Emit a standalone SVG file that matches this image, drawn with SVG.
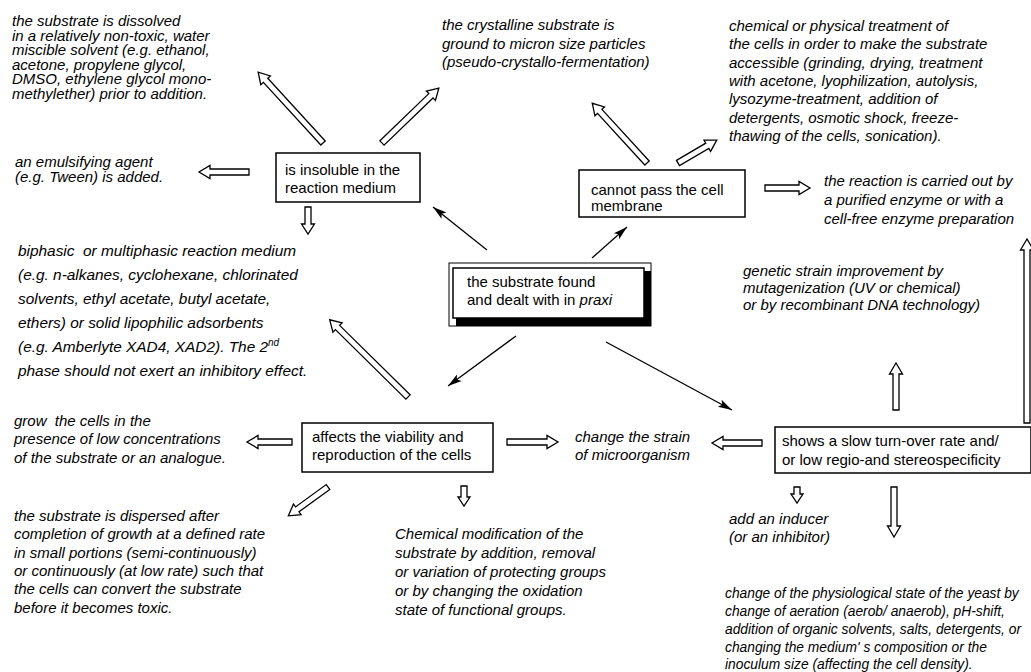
<svg xmlns="http://www.w3.org/2000/svg" width="1031" height="672" viewBox="0 0 1031 672">
<style>
.t{font-family:"Liberation Sans",Arial,sans-serif;font-size:15px;fill:#000}
.i{font-family:"Liberation Sans",Arial,sans-serif;font-size:15px;font-style:italic;fill:#000}
.s{font-size:13.8px}
.b{font-size:15.4px}
.pre{white-space:pre}
.box{fill:#fff;stroke:#000;stroke-width:1.5}
.blk{fill:#fff;stroke:#000;stroke-width:1.3;stroke-linejoin:miter}
.thin{fill:none;stroke:#000;stroke-width:1.3;marker-end:url(#ah)}
</style>
<defs>
<marker id="ah" markerUnits="userSpaceOnUse" markerWidth="16" markerHeight="10" refX="14" refY="5" orient="auto">
<path d="M0,1 L14,5 L0,9 L3,5 Z" fill="#000"/>
</marker>
</defs>
<rect width="1031" height="672" fill="#fff"/>

<g id="connectors">
<line class="thin" x1="487" y1="250" x2="433" y2="207"/>
<line class="thin" x1="592" y1="258" x2="627" y2="227"/>
<line class="thin" x1="516" y1="336" x2="448" y2="386"/>
<line class="thin" x1="606" y1="342" x2="732" y2="410"/>
<path class="blk" transform="translate(323,143) rotate(-132.5)" d="M0,-3H85V-6.5L96,0L85,6.5V3H0Z"/>
<path class="blk" transform="translate(382,143) rotate(-44)" d="M0,-3H68V-6.5L79,0L68,6.5V3H0Z"/>
<path class="blk" transform="translate(249,172) rotate(180)" d="M0,-3H39V-6.5L50,0L39,6.5V3H0Z"/>
<path class="blk" transform="translate(308,207) rotate(90)" d="M0,-3H17V-6.5L27,0L17,6.5V3H0Z"/>
<path class="blk" transform="translate(647,163) rotate(-132.5)" d="M0,-3H70V-6.5L81,0L70,6.5V3H0Z"/>
<path class="blk" transform="translate(678,163) rotate(-30.5)" d="M0,-3H34V-6.5L45,0L34,6.5V3H0Z"/>
<path class="blk" transform="translate(765,188)" d="M0,-3H34V-6.5L45,0L34,6.5V3H0Z"/>
<path class="blk" transform="translate(408,397) rotate(-135.4)" d="M0,-3H99V-6.5L110,0L99,6.5V3H0Z"/>
<path class="blk" transform="translate(292,442) rotate(180)" d="M0,-3H34V-6.5L45,0L34,6.5V3H0Z"/>
<path class="blk" transform="translate(328,487) rotate(144)" d="M0,-3H38V-6.5L49,0L38,6.5V3H0Z"/>
<path class="blk" transform="translate(464,486) rotate(90)" d="M0,-3H11V-6L20,0L11,6V3H0Z"/>
<path class="blk" transform="translate(507,442)" d="M0,-3H40V-6.5L51,0L40,6.5V3H0Z"/>
<path class="blk" transform="translate(762,443) rotate(180)" d="M0,-3H39V-6.5L50,0L39,6.5V3H0Z"/>
<path class="blk" transform="translate(797,487) rotate(90)" d="M0,-3H7V-6L16,0L7,6V3H0Z"/>
<path class="blk" transform="translate(894,487) rotate(90)" d="M0,-3H39V-6.5L50,0L39,6.5V3H0Z"/>
<path class="blk" transform="translate(896,410) rotate(-90)" d="M0,-3H36V-6.5L47,0L36,6.5V3H0Z"/>
<path class="blk" transform="translate(1027,423) rotate(-90)" d="M0,-3H173V-6.5L184,0L173,6.5V3H0Z"/>
</g>

<g id="node-center">
<rect x="449" y="263" width="202" height="63" fill="none" stroke="#000" stroke-width="1"/>
<rect x="456" y="271" width="195" height="55" fill="#000"/>
<rect class="box" x="453" y="268" width="191" height="50"/>
<text class="t" x="467" y="287">the substrate found</text>
<text class="t" x="467" y="305">and dealt with in <tspan font-style="italic">praxi</tspan></text>
</g>

<g id="node-insoluble">
<rect class="box" x="276" y="153" width="144" height="49"/>
<text class="t" x="285" y="175">is insoluble in the</text>
<text class="t" x="285" y="193">reaction medium</text>
</g>

<g id="node-membrane">
<rect class="box" x="579" y="170" width="166" height="47"/>
<text class="t" x="591" y="195">cannot pass the cell</text>
<text class="t" x="591" y="211">membrane</text>
</g>

<g id="node-viability">
<rect class="box" x="302" y="423" width="191" height="49"/>
<text class="t" x="312" y="442">affects the viability and</text>
<text class="t" x="312" y="460">reproduction of the cells</text>
</g>

<g id="node-turnover">
<rect class="box" x="775" y="427" width="256" height="46"/>
<text class="t" x="782" y="446">shows a slow turn-over rate and/</text>
<text class="t" x="782" y="465">or low regio-and stereospecificity</text>
</g>

<g id="note-dissolved">
<text class="i" x="12" y="26">the substrate is dissolved</text>
<text class="i" x="12" y="41">in a relatively non-toxic, water</text>
<text class="i" x="12" y="55">miscible solvent (e.g. ethanol,</text>
<text class="i" x="12" y="70">acetone, propylene glycol,</text>
<text class="i" x="12" y="84">DMSO, ethylene glycol mono-</text>
<text class="i" x="12" y="99">methylether) prior to addition.</text>
</g>

<g id="note-emulsify">
<text class="i" x="15" y="167">an emulsifying agent</text>
<text class="i" x="15" y="182">(e.g. Tween) is added.</text>
</g>

<g id="note-crystalline">
<text class="i" x="442" y="30">the crystalline substrate is</text>
<text class="i" x="442" y="49">ground to micron size particles</text>
<text class="i" x="442" y="67">(pseudo-crystallo-fermentation)</text>
</g>

<g id="note-treatment">
<text class="i" x="729" y="31">chemical or physical treatment of</text>
<text class="i" x="729" y="49">the cells in order to make the substrate</text>
<text class="i" x="729" y="68">accessible (grinding, drying, treatment</text>
<text class="i" x="729" y="86">with acetone, lyophilization, autolysis,</text>
<text class="i" x="729" y="104">lysozyme-treatment, addition of</text>
<text class="i" x="729" y="123">detergents, osmotic shock, freeze-</text>
<text class="i" x="729" y="141">thawing of the cells, sonication).</text>
</g>

<g id="note-enzyme">
<text class="i" x="824" y="186">the reaction is carried out by</text>
<text class="i" x="824" y="205">a purified enzyme or with a</text>
<text class="i" x="824" y="224">cell-free enzyme preparation</text>
</g>

<g id="note-genetic">
<text class="i" x="743" y="276">genetic strain improvement by</text>
<text class="i" x="743" y="293">mutagenization (UV or chemical)</text>
<text class="i" x="743" y="310">or by recombinant DNA technology)</text>
</g>

<g id="note-biphasic">
<text class="i b pre" x="18" y="256">biphasic  or multiphasic reaction medium</text>
<text class="i b" x="18" y="280">(e.g. n-alkanes, cyclohexane, chlorinated</text>
<text class="i b" x="18" y="304">solvents, ethyl acetate, butyl acetate,</text>
<text class="i b" x="18" y="328">ethers) or solid lipophilic adsorbents</text>
<text class="i b" x="18" y="352">(e.g. Amberlyte XAD4, XAD2). The 2<tspan dy="-6" font-size="10">nd</tspan></text>
<text class="i b" x="18" y="376">phase should not exert an inhibitory effect.</text>
</g>

<g id="note-grow">
<text class="i pre" x="14" y="426">grow  the cells in the</text>
<text class="i" x="14" y="444">presence of low concentrations</text>
<text class="i" x="14" y="463">of the substrate or an analogue.</text>
</g>

<g id="note-dispersed">
<text class="i" x="14" y="521">the substrate is dispersed after</text>
<text class="i" x="14" y="539">completion of growth at a defined rate</text>
<text class="i" x="14" y="558">in small portions (semi-continuously)</text>
<text class="i" x="14" y="576">or continuously (at low rate) such that</text>
<text class="i" x="14" y="594">the cells can convert the substrate</text>
<text class="i" x="14" y="613">before it becomes toxic.</text>
</g>

<g id="note-chemical">
<text class="i" x="395" y="539">Chemical modification of the</text>
<text class="i" x="395" y="558">substrate by addition, removal</text>
<text class="i" x="395" y="577">or variation of protecting groups</text>
<text class="i" x="395" y="596">or by changing the oxidation</text>
<text class="i" x="395" y="615">state of functional groups.</text>
</g>

<g id="note-strain">
<text class="i" x="575" y="442">change the strain</text>
<text class="i" x="575" y="460">of microorganism</text>
</g>

<g id="note-inducer">
<text class="i" x="729" y="524">add an inducer</text>
<text class="i" x="729" y="542">(or an inhibitor)</text>
</g>

<g id="note-physiological">
<text class="i s" x="725" y="598">change of the physiological state of the yeast by</text>
<text class="i s" x="725" y="616">change of aeration (aerob/ anaerob), pH-shift,</text>
<text class="i s" x="725" y="634">addition of organic solvents, salts, detergents, or</text>
<text class="i s" x="725" y="652">changing the medium' s composition or the</text>
<text class="i s" x="725" y="669">inoculum size (affecting the cell density).</text>
</g>
</svg>
